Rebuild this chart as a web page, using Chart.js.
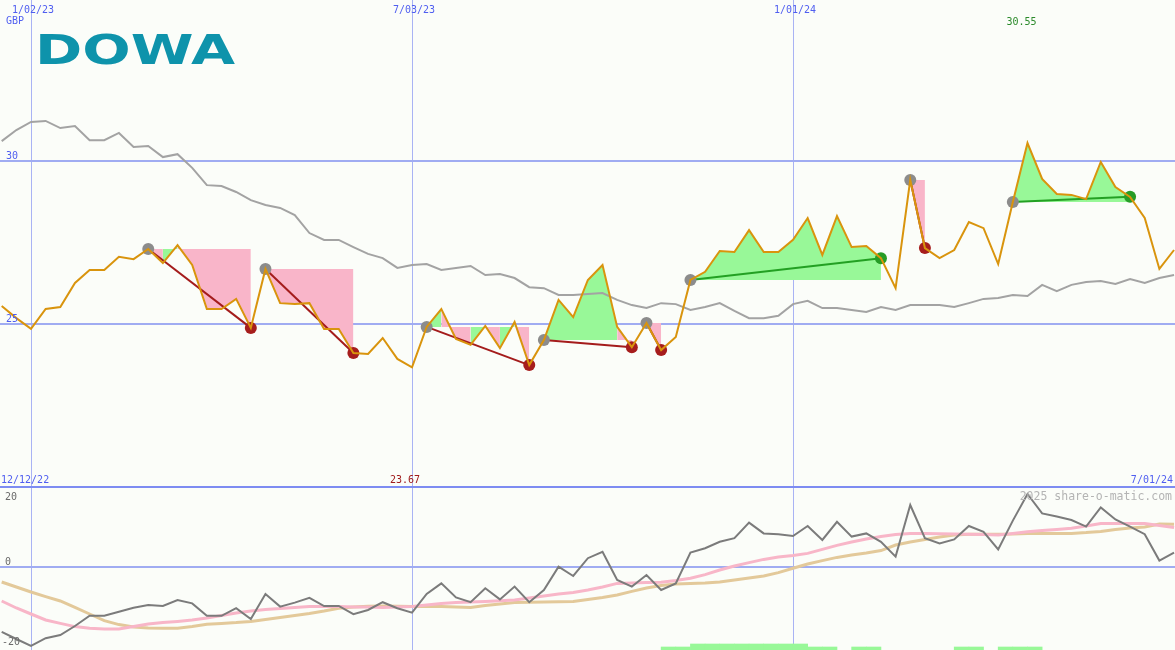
<!DOCTYPE html>
<html>
<head>
<meta charset="utf-8">
<title>DOWA</title>
<script src="https://cdn.jsdelivr.net/npm/chart.js@4/dist/chart.umd.min.js"></script>
<style>
  html, body { margin: 0; padding: 0; background: #fbfdf9; }
  #wrap { position: relative; width: 1175px; height: 650px; overflow: hidden; }
  canvas { display: block; }
</style>
</head>
<body>
<div id="wrap"><canvas id="chart" width="1175" height="650"></canvas></div>
<script>
/* ── Data (weekly closes, week 0 = 1/02/23) ───────────────────────── */
var FIRST_WEEK = -2;
var rangeStart = "12/12/22";
var rangeEnd = "7/01/24";
var currency = "GBP";
var dateTicks = [0, 26, 52];
var dateLabels = ["1/02/23", "7/03/23", "1/01/24"];
var priceTicks = [30, 25];
var oscGrid = [20, 0];
var oscLabels = [20, 0, -20];

var price = [
  25.55, 25.18, 24.85, 25.46, 25.52, 26.26, 26.66, 26.66, 27.06, 26.99,
  27.30, 26.87, 27.42, 26.81, 25.46, 25.46, 25.77, 24.88, 26.69, 25.64,
  25.61, 25.64, 24.85, 24.85, 24.11, 24.08, 24.57, 23.93, 23.67, 24.91,
  25.46, 24.54, 24.36, 24.94, 24.26, 25.06, 23.74, 24.51, 25.74, 25.21,
  26.35, 26.81, 24.91, 24.29, 25.03, 24.20, 24.60, 26.35, 26.60, 27.24,
  27.21, 27.88, 27.21, 27.21, 27.58, 28.25, 27.12, 28.31, 27.36, 27.39,
  27.02, 26.10, 29.42, 27.33, 27.02, 27.27, 28.13, 27.94, 26.84, 28.74,
  30.55, 29.45, 28.99, 28.96, 28.83, 29.97, 29.20, 28.90, 28.25, 26.69,
  27.27
];

var priceMA = [
  30.61, 30.95, 31.20, 31.23, 31.01, 31.07, 30.64, 30.64, 30.86, 30.43,
  30.46, 30.12, 30.21, 29.79, 29.26, 29.23, 29.05, 28.80, 28.65, 28.56,
  28.34, 27.79, 27.58, 27.58, 27.36, 27.15, 27.02, 26.72, 26.81, 26.84,
  26.66, 26.72, 26.78, 26.50, 26.53, 26.41, 26.13, 26.10, 25.89, 25.89,
  25.92, 25.95, 25.74, 25.58, 25.49, 25.64, 25.61, 25.43, 25.52, 25.64,
  25.40, 25.18, 25.18, 25.25, 25.61, 25.71, 25.49, 25.49, 25.43, 25.37,
  25.52, 25.43, 25.58, 25.58, 25.58, 25.52, 25.64, 25.77, 25.80, 25.89,
  25.86, 26.20, 26.01, 26.20, 26.29, 26.32, 26.23, 26.38, 26.26, 26.41,
  26.50
];

var osc = [
  -16.2, -18, -19.75, -17.8, -17, -14.75, -12.2, -12.2, -11.2, -10.2,
  -9.5, -9.75, -8.25, -9.1, -12.2, -12.2, -10.3, -13, -6.75, -9.9,
  -8.9, -7.7, -9.75, -9.75, -11.8, -10.75, -8.8, -10.3, -11.4, -6.75,
  -4.1, -7.6, -8.8, -5.3, -8.1, -4.9, -8.8, -5.75, 0.1, -2.25,
  2.2, 3.8, -3.25, -4.9, -2, -5.75, -4.1, 3.6, 4.7, 6.3,
  7.2, 11.1, 8.4, 8.2, 7.75, 10.25, 6.75, 11.3, 7.6, 8.4,
  6.3, 2.6, 15.5, 7.2, 5.9, 6.9, 10.25, 8.8, 4.4, 11.6,
  18.25, 13.4, 12.6, 11.75, 10.1, 14.9, 11.9, 10.1, 8.2, 1.6,
  3.6
];

var oscFast = [
  -8.5, -10.25, -11.75, -13.25, -14.1, -14.9, -15.3, -15.5, -15.5, -14.9,
  -14.25, -13.9, -13.6, -13.25, -12.75, -12.1, -11.5, -11, -10.6, -10.4,
  -10.1, -9.9, -9.9, -9.9, -10, -10, -10.1, -10, -9.9, -9.5,
  -9.1, -8.9, -8.75, -8.6, -8.45, -8.25, -7.75, -7.25, -6.75, -6.4,
  -5.75, -5, -4.1, -4, -3.9, -3.8, -3.4, -2.8, -1.9, -0.75,
  0.25, 1.1, 1.9, 2.5, 2.9, 3.4, 4.4, 5.4, 6.25, 7,
  7.6, 8.1, 8.4, 8.4, 8.3, 8.25, 8.2, 8.1, 8, 8.4,
  8.8, 9.1, 9.4, 9.7, 10.25, 10.9, 10.9, 10.9, 10.9, 10.4,
  9.9
];

var oscSlow = [
  -3.75, -5, -6.25, -7.4, -8.5, -10.1, -11.75, -13.4, -14.4, -15,
  -15.25, -15.3, -15.3, -14.9, -14.3, -14.1, -13.9, -13.6, -13.1, -12.6,
  -12.1, -11.6, -11, -10.3, -10, -9.8, -9.75, -9.8, -9.9, -9.9,
  -9.9, -10, -10.1, -9.6, -9.25, -8.9, -8.8, -8.75, -8.7, -8.6,
  -8.1, -7.6, -7, -6.1, -5.25, -4.6, -4.25, -4.1, -4, -3.75,
  -3.25, -2.75, -2.25, -1.4, -0.3, 0.75, 1.6, 2.4, 3, 3.5,
  4.1, 5.5, 6.25, 6.9, 7.5, 8, 8.2, 8.2, 8.2, 8.25,
  8.4, 8.4, 8.4, 8.4, 8.6, 8.9, 9.4, 9.75, 10, 10.75,
  10.7
];

var barWeeks = [43, 44, 45, 46, 47, 48, 49, 50, 51, 52, 53, 54, 56, 57, 63, 64, 66, 67, 68];
var barValues = [1, 1, 2, 2, 2, 2, 2, 2, 2, 2, 1, 1, 1, 1, 1, 1, 1, 1, 1];

var trendStart = [8, 16, 27, 35, 42, 45, 60, 67];
var trendEnd   = [15, 22, 34, 41, 43, 58, 61, 75];
var trendUp    = [false, false, false, false, false, true, false, true];
var trendFill  = ["pgppppp", "pppppp", "gppgpgp", "gggggp", "p", "ggggggggggggg", "p", "gggggggg"];

/* ── Chart ─────────────────────────────────────────────────────────── */
(function () {
  "use strict";

  var X_MIN = -2.1155, X_MAX = 78.066;
  var PRICE_MIN = 15.0, PRICE_MAX = 34.9387;
  var OSC_MIN = -20.75, OSC_MAX = 141.75;
  var BAR_MAX = 650 / 3;

  var BLUE_TEXT = "#4f5ef0";
  var FILL_GREEN = "#98f898";
  var FILL_PINK = "#f9b5c9";

  function weekPoints(values) {
    return values.map(function (v, i) { return { x: FIRST_WEEK + i, y: v }; });
  }
  function priceAt(w) { return price[w - FIRST_WEEK]; }

  var datasets = [];

  datasets.push({ data: weekPoints(price), borderColor: "#d9940d", borderWidth: 2, order: 1, yAxisID: "y" });
  datasets.push({ data: weekPoints(priceMA), borderColor: "#a3a3a3", borderWidth: 2, order: 4, yAxisID: "y" });

  trendStart.forEach(function (s, k) {
    var e = trendEnd[k];
    var level = priceAt(s);
    var flags = trendFill[k];
    var seg = [];
    for (var w = s; w <= e; w++) seg.push({ x: w, y: priceAt(w) });

    datasets.push({
      data: seg, borderWidth: 0, borderColor: "transparent",
      backgroundColor: FILL_PINK, fill: "+1", order: 5, yAxisID: "y",
      segment: {
        backgroundColor: function (ctx) {
          return flags.charAt(ctx.p0DataIndex) === "g" ? FILL_GREEN : FILL_PINK;
        }
      }
    });
    datasets.push({
      data: [{ x: s, y: level }, { x: e, y: level }],
      borderWidth: 0, borderColor: "transparent", order: 5, yAxisID: "y"
    });
    datasets.push({
      data: [{ x: s, y: level }, { x: e, y: priceAt(e) }],
      borderColor: trendUp[k] ? "#23a023" : "#a41c1c", borderWidth: 2, order: 3, yAxisID: "y"
    });
  });

  function dots(weeks, color) {
    return {
      data: weeks.map(function (w) { return { x: w, y: priceAt(w) }; }),
      showLine: false, pointRadius: 6, pointBorderWidth: 0,
      pointBackgroundColor: color, order: 2, yAxisID: "y"
    };
  }
  datasets.push(dots(trendStart, "#8c8c8c"));
  datasets.push(dots(trendEnd.filter(function (w, k) { return !trendUp[k]; }), "#a61d1d"));
  datasets.push(dots(trendEnd.filter(function (w, k) { return trendUp[k]; }), "#269c26"));

  datasets.push({ data: weekPoints(oscSlow), borderColor: "#e3c99a", borderWidth: 3, order: 3, yAxisID: "y2" });
  datasets.push({ data: weekPoints(oscFast), borderColor: "#f8b6c8", borderWidth: 3, order: 2, yAxisID: "y2" });
  datasets.push({ data: weekPoints(osc), borderColor: "#7b7b7b", borderWidth: 2, order: 1, yAxisID: "y2" });

  datasets.push({
    type: "bar",
    data: barWeeks.map(function (w, i) { return { x: w + 0.5, y: barValues[i] }; }),
    backgroundColor: FILL_GREEN, borderWidth: 0,
    barPercentage: 1, categoryPercentage: 1, order: 7, yAxisID: "y3"
  });

  /* ── Text ────────────────────────────────────────────────────────── */
  var labelsPlugin = {
    id: "labels",
    afterDraw: function (chart) {
      var c = chart.ctx;
      var xs = chart.scales.x, ys = chart.scales.y, os = chart.scales.y2;
      var mono = "10px 'DejaVu Sans Mono', monospace";

      function put(s, x, y, color, align, font) {
        c.font = font || mono;
        c.fillStyle = color;
        c.textAlign = align || "left";
        c.textBaseline = "alphabetic";
        c.fillText(s, x, y);
      }

      c.save();

      // logo
      c.save();
      c.font = "bold 40px 'DejaVu Sans', sans-serif";
      var lw = c.measureText("DOWA").width;
      c.translate(35, 64);
      c.scale(200 / lw, 1);
      c.fillStyle = "#0e93ab";
      c.textAlign = "left";
      c.fillText("DOWA", 0, 0);
      c.restore();

      dateTicks.forEach(function (v, i) {
        put(dateLabels[i], xs.getPixelForValue(v) + 2, 13, BLUE_TEXT, "center");
      });
      put(currency, 6, 24, BLUE_TEXT);
      priceTicks.forEach(function (v) {
        put(String(v), 6, ys.getPixelForValue(v) - 2, BLUE_TEXT);
      });

      var hi = Math.max.apply(null, price), lo = Math.min.apply(null, price);
      var hiW = price.indexOf(hi) + FIRST_WEEK, loW = price.indexOf(lo) + FIRST_WEEK;
      put(hi.toFixed(2), xs.getPixelForValue(hiW) - 6, 25, "#2a8a2a", "center");
      put(lo.toFixed(2), xs.getPixelForValue(loW) - 7, 483, "#a01c1c", "center");

      put(rangeStart, 1, 483, BLUE_TEXT);
      put(rangeEnd, 1173, 483, BLUE_TEXT, "right");

      oscLabels.forEach(function (v) {
        var py = os.getPixelForValue(v);
        var by = py - 2 < 495 ? py + 13 : py - 2;
        put(String(v), v < 0 ? 2 : 5, by, "#6a6a6a");
      });

      put("2025 share-o-matic.com", 1172, 500, "#b4b4b4", "right", "11.5px 'DejaVu Sans Mono', monospace");

      c.restore();
    }
  };

  new Chart(document.getElementById("chart").getContext("2d"), {
    type: "line",
    data: { datasets: datasets },
    plugins: [labelsPlugin],
    options: {
      responsive: false,
      animation: false,
      events: [],
      layout: { padding: 0, autoPadding: false },
      plugins: { legend: { display: false }, tooltip: { enabled: false } },
      elements: { point: { radius: 0 }, line: { tension: 0, fill: false } },
      scales: {
        x: {
          type: "linear", min: X_MIN, max: X_MAX, offset: false,
          afterBuildTicks: function (s) { s.ticks = dateTicks.map(function (v) { return { value: v }; }); },
          afterFit: function (s) { s.height = 0; },
          ticks: { display: false },
          grid: { color: "#a9b3f4", lineWidth: 1, drawTicks: false, offset: false },
          border: { display: false }
        },
        y: {
          type: "linear", position: "left", min: PRICE_MIN, max: PRICE_MAX,
          afterBuildTicks: function (s) { s.ticks = priceTicks.map(function (v) { return { value: v }; }); },
          afterFit: function (s) { s.width = 0; },
          ticks: { display: false },
          grid: { color: "#a0acf2", lineWidth: 2, drawTicks: false },
          border: { display: false }
        },
        y2: {
          type: "linear", position: "left", min: OSC_MIN, max: OSC_MAX,
          afterBuildTicks: function (s) { s.ticks = oscGrid.map(function (v) { return { value: v }; }); },
          afterFit: function (s) { s.width = 0; },
          ticks: { display: false },
          grid: {
            color: function (ctx) { return ctx.tick && ctx.tick.value === 20 ? "#7d8cf2" : "#a0acf2"; },
            lineWidth: 2, drawTicks: false
          },
          border: { display: false }
        },
        y3: { type: "linear", display: false, min: 0, max: BAR_MAX }
      }
    }
  });
})();
</script>
</body>
</html>
